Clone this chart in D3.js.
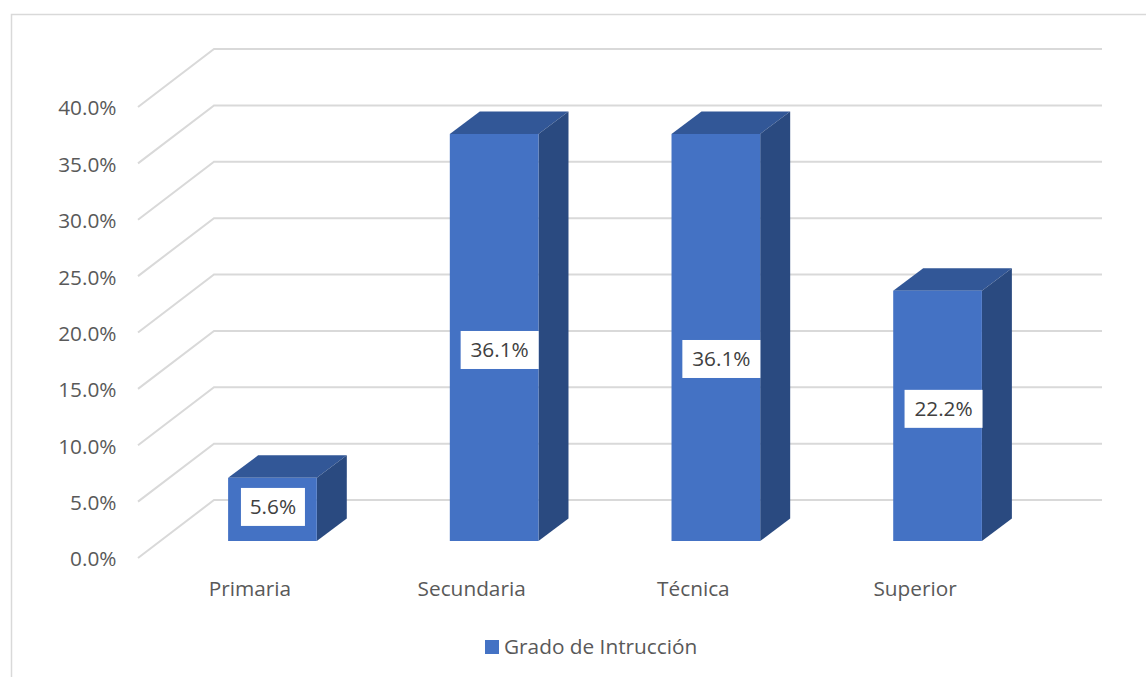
<!DOCTYPE html>
<html><head><meta charset="utf-8">
<script src="https://cdn.jsdelivr.net/npm/d3@7"></script>
<style>html,body{margin:0;padding:0;background:#fff}svg{display:block}text{font-family:"Open Sans","Noto Sans",sans-serif;fill:#595959}</style>
</head><body><svg id="c" width="1146" height="677"></svg>
<script>
const categories = ["Primaria","Secundaria","Técnica","Superior"];
const values = [5.6,36.1,36.1,22.2];
const valueLabels = ["5.6%","36.1%","36.1%","22.2%"];
const ticks = [0,5,10,15,20,25,30,35,40];
const seriesName = "Grado de Intrucción";

const svg = d3.select("#c");
const y = d3.scaleLinear().domain([0,40]).range([558,107]);
const x = d3.scaleBand().domain(categories).range([161.6,1048.4]).paddingInner(0.6).paddingOuter(0.3);
const wallDx = 76, wallDy = -58, wallRight = 1102;
const barLift = 17, depthX = 30, depthY = -22.5;
const labelShift = [[0.5,-2.5],[5.5,12.5],[5.5,21.5],[6,-7]];
const labelW = [64,78,78,78];
const fs = 20.8;

// chart frame
svg.append("path").attr("d","M11.5,677V14.5H1146").attr("fill","none").attr("stroke","#d9d9d9").attr("stroke-width",1.5);

// gridlines
const grid = "#d9d9d9";
svg.append("g").selectAll("path").data(ticks).join("path")
  .attr("d",t=>`M138,${y(t)}L${138+wallDx},${y(t)+wallDy}H${wallRight}`)
  .attr("fill","none").attr("stroke",grid).attr("stroke-width",2);

// tick labels
svg.append("g").selectAll("text").data(ticks).join("text")
  .attr("x",116.5).attr("y",t=>y(t)+1).attr("dy","0.36em").attr("text-anchor","end")
  .attr("font-size",fs).text(t=>t.toFixed(1)+"%");

// bars
const bars = svg.append("g").selectAll("g").data(categories).join("g");
const top_ = i=>y(values[i])-barLift, bot = ()=>y(0)-barLift;
bars.append("path").attr("fill","#325797")
  .attr("d",(c,i)=>{const l=x(c),r=l+x.bandwidth(),t=top_(i);return `M${l},${t}L${l+depthX},${t+depthY}H${r+depthX}L${r},${t}Z`;});
bars.append("path").attr("fill","#2a4a80")
  .attr("d",(c,i)=>{const r=x(c)+x.bandwidth(),t=top_(i),b=bot();return `M${r},${t}L${r+depthX},${t+depthY}V${b+depthY}L${r},${b}Z`;});
bars.append("rect").attr("fill","#4472c4")
  .attr("x",c=>x(c)).attr("width",x.bandwidth()).attr("y",(c,i)=>top_(i)).attr("height",(c,i)=>bot()-top_(i));

// data labels
const cx=(c)=>x(c)+x.bandwidth()/2;
const cy=(i)=>(top_(i)+bot())/2;
bars.append("rect").attr("fill","#fff").attr("height",38)
  .attr("width",(c,i)=>labelW[i])
  .attr("x",(c,i)=>cx(c)+labelShift[i][0]-labelW[i]/2)
  .attr("y",(c,i)=>cy(i)+labelShift[i][1]-19);
bars.append("text").attr("text-anchor","middle").attr("dy","0.36em").attr("font-size",fs).style("fill","#404040")
  .attr("x",(c,i)=>cx(c)+labelShift[i][0])
  .attr("y",(c,i)=>cy(i)+labelShift[i][1])
  .text((c,i)=>valueLabels[i]);

// category labels
svg.append("g").selectAll("text").data(categories).join("text")
  .attr("x",c=>cx(c)-22.5).attr("y",589).attr("dy","0.36em").attr("text-anchor","middle")
  .attr("font-size",fs).text(c=>c);

// legend
svg.append("rect").attr("x",485).attr("y",640).attr("width",14).attr("height",14).attr("fill","#4472c4");
svg.append("text").attr("x",504).attr("y",646.5).attr("dy","0.36em").attr("font-size",fs).text(seriesName);
</script></body></html>
